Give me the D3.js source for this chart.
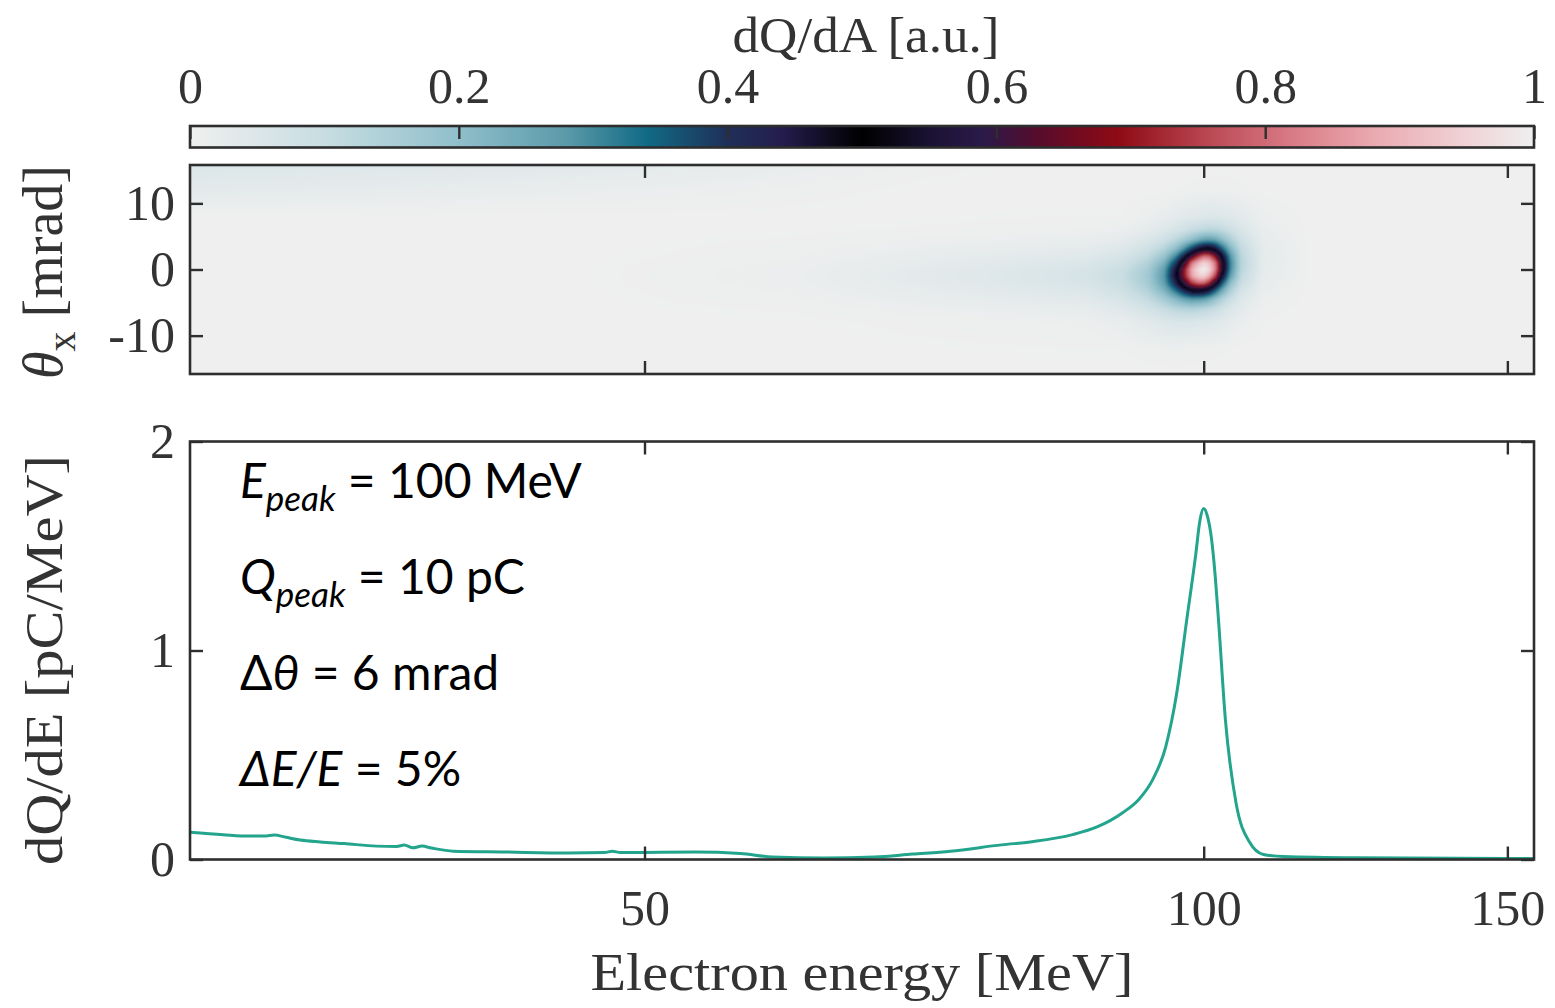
<!DOCTYPE html>
<html>
<head>
<meta charset="utf-8">
<script src="https://cdn.jsdelivr.net/npm/d3@7"></script>
<style>
  html, body { margin: 0; padding: 0; background: #ffffff; }
  svg { display: block; }
</style>
</head>
<body>
<svg id="chart" width="1555" height="1008"></svg>
<script>
// ---------------- data ----------------
// Energy-axis ticks [MeV]
const energyTicks = [50, 100, 150];
// Angle-axis ticks [mrad]
const thetaTicks = [-10, 0, 10];
// Spectrum-axis ticks [pC/MeV]
const chargeTicks = [0, 1, 2];
// Colour-bar ticks and labels
const cbarTicks = [0, 0.2, 0.4, 0.6, 0.8, 1];
const cbarTickLabels = ["0", "0.2", "0.4", "0.6", "0.8", "1"];

// Beam parameters quoted in the spectrum panel
const peakEnergy = 100;   // MeV
const peakCharge = 10;    // pC
const divergence = 6;     // mrad
const energySpread = 5;   // %

// Angle-integrated spectrum dQ/dE [pC/MeV] versus electron energy [MeV]
const spectrumEnergy = [29.75, 30.86, 31.77, 32.3, 32.67, 33.1, 33.63, 34.4, 35.34, 36.65,
  37.5, 37.83, 38.2, 38.6, 39.02, 40.01, 42.44, 45.73, 47.7, 48.14,
  48.6, 50.0, 53.11, 56.06, 58.26, 61.98, 65.97, 69.13, 72.47, 77.25,
  80.43, 84.49, 87.23, 90.07, 91.93, 93.6, 95.19, 96.56, 97.81, 98.97,
  99.5, 100.0, 100.5, 101.0, 101.5, 101.95, 102.87, 104.3, 106.2, 108.1,
  111.0, 122.2, 155.6];
const spectrumCharge = [0.131, 0.119, 0.112, 0.112, 0.117, 0.106, 0.093, 0.084, 0.076, 0.064,
  0.062, 0.069, 0.056, 0.064, 0.055, 0.040, 0.036, 0.031, 0.033, 0.040,
  0.033, 0.034, 0.036, 0.029, 0.012, 0.007, 0.012, 0.026, 0.040, 0.070,
  0.086, 0.119, 0.157, 0.224, 0.286, 0.381, 0.538, 0.795, 1.143, 1.459,
  1.62, 1.68, 1.64, 1.54, 1.36, 1.143, 0.667, 0.271, 0.081, 0.024,
  0.014, 0.008, 0.005];

// Angularly resolved charge density dQ/dA (normalised), sampled on an energy x angle grid
const mapEnergy = [29.75, 45, 60, 70, 80, 86, 90, 93, 95, 96.5, 97.5, 98.5, 99.3, 100,
  100.7, 101.5, 102.5, 103.5, 105, 108, 115, 155.6];
const mapTheta = [-15.8, -12, -8, -6, -4.5, -3, -2, -1, 0, 1, 2, 3, 4.5, 6, 8, 12, 15.8];
const mapValues = [
  [0,0,0,0,0,0,0,0,0,0,0,0,0,0,0,0,0,0,0,0,0,0],
  [0,0,0,.001,.002,.002,.002,.006,.007,.008,.007,.006,.006,.005,.004,.004,.003,.002,0,0,0,0],
  [0,0,.001,.004,.006,.008,.017,.034,.047,.051,.053,.052,.048,.045,.043,.039,.032,.023,.013,.002,0,0],
  [0,0,.003,.010,.016,.021,.039,.069,.099,.123,.131,.135,.128,.120,.111,.096,.071,.050,.030,.005,0,0],
  [0,0,.006,.017,.028,.036,.061,.105,.161,.220,.258,.281,.275,.265,.238,.191,.137,.092,.044,.010,0,0],
  [0,0,.008,.024,.040,.052,.082,.142,.233,.353,.454,.530,.546,.530,.482,.382,.257,.158,.072,.015,0,0],
  [0,0,.010,.029,.048,.062,.094,.160,.268,.441,.590,.746,.801,.800,.722,.560,.360,.212,.094,.018,0,0],
  [0,0,.010,.030,.050,.065,.098,.165,.280,.488,.692,.871,.935,.950,.889,.751,.472,.274,.112,.022,0,0],
  [0,0,.010,.029,.048,.062,.093,.157,.268,.473,.690,.890,.965,1.000,.959,.833,.538,.310,.126,.025,0,0],
  [0,0,.008,.024,.040,.052,.079,.135,.233,.400,.584,.819,.899,.950,.922,.816,.538,.316,.132,.026,0,0],
  [0,0,.006,.019,.031,.040,.063,.108,.184,.312,.447,.612,.733,.800,.792,.681,.472,.291,.126,.026,0,0],
  [0,0,.005,.014,.023,.029,.046,.082,.138,.220,.309,.415,.486,.530,.535,.486,.360,.239,.112,.025,0,0],
  [0,0,.003,.008,.013,.016,.026,.052,.082,.123,.163,.203,.240,.265,.273,.259,.205,.153,.083,.021,0,0],
  [0,0,.001,.003,.005,.007,.011,.026,.045,.064,.081,.100,.112,.120,.126,.123,.110,.089,.054,.016,0,0],
  [0,0,0,.001,.002,.002,.002,.010,.018,.028,.034,.039,.043,.045,.048,.048,.044,.040,.030,.009,0,0],
  [.030,.015,.005,0,0,0,0,0,0,.002,.003,.004,.004,.005,.006,.006,.006,.005,.004,0,0,0],
  [.050,.035,.015,.005,0,0,0,0,0,0,0,0,0,0,0,0,0,0,0,0,0,0]
];

// Diverging colour map: light grey -> teal -> black -> red -> light grey
const cmapStops = [0, 0.10, 0.20, 0.28, 0.34, 0.40, 0.44, 0.50, 0.55, 0.59, 0.63, 0.69, 0.76, 0.82, 0.88, 0.95, 1.0];
const cmapColors = ["#efefef", "#c8dde2", "#90bfcb", "#5b9aa9", "#116a85", "#1f2f58", "#241d4e", "#000000",
  "#1a1232", "#2a1a4a", "#560c2c", "#8e0a14", "#bb4a55", "#d97b86", "#eaa9b0", "#f0d3d6", "#efefef"];

// ---------------- layout ----------------
const svg = d3.select("#chart");
const INK = "#2e2e2e";
const TEXT = "#333333";
const SERIF = "'Liberation Serif', 'Times New Roman', serif";
const SANS = "Lato, 'Open Sans', 'Noto Sans', sans-serif";

const left = 190, right = 1534;
const cbTop = 126, cbBottom = 147.5;
const mapTop = 165, mapBottom = 374;
const specTop = 441.5, specBottom = 859.5;

// Spectrometer energy axis: dispersion is non-linear in energy
const x = d3.scalePow().exponent(-0.135).domain([29.75, 155.6]).range([left, right]);
const yTheta = d3.scaleLinear().domain([-15.8, 15.8]).range([mapBottom, mapTop]);
const yQ = d3.scaleLinear().domain([0, 2]).range([specBottom, specTop]);
const xCb = d3.scaleLinear().domain([0, 1]).range([left, right]);
const cmap = d3.scaleLinear().domain(cmapStops).range(cmapColors)
  .interpolate(d3.interpolateRgb).clamp(true);
const plainNumber = d => String(d);

function styleAxis(g, withText) {
  g.attr("font-family", SERIF).attr("font-size", 50).attr("fill", null);
  g.select(".domain").remove();
  g.selectAll(".tick line").attr("stroke", INK).attr("stroke-width", 2.4);
  g.selectAll(".tick text").attr("fill", TEXT);
  if (!withText) g.selectAll(".tick text").remove();
}

// ---------------- colour bar ----------------
const defs = svg.append("defs");
const grad = defs.append("linearGradient").attr("id", "cbar-grad")
  .attr("x1", 0).attr("x2", 1).attr("y1", 0).attr("y2", 0);
grad.selectAll("stop").data(cmapStops).join("stop")
  .attr("offset", d => d)
  .attr("stop-color", (d, i) => cmapColors[i]);

svg.append("rect")
  .attr("x", left).attr("y", cbTop)
  .attr("width", right - left).attr("height", cbBottom - cbTop)
  .attr("fill", "url(#cbar-grad)");

svg.append("g").attr("transform", `translate(0,${cbTop})`)
  .call(d3.axisTop(xCb).tickValues(cbarTicks).tickSize(-13).tickPadding(23)
    .tickFormat((d, i) => cbarTickLabels[i]))
  .call(g => styleAxis(g, true));

svg.append("rect")
  .attr("x", left).attr("y", cbTop)
  .attr("width", right - left).attr("height", cbBottom - cbTop)
  .attr("fill", "none").attr("stroke", INK).attr("stroke-width", 2.6);

svg.append("text")
  .attr("x", 866).attr("y", 52)
  .attr("text-anchor", "middle")
  .attr("font-family", SERIF).attr("font-size", 50).attr("fill", TEXT)
  .attr("textLength", 267).attr("lengthAdjust", "spacingAndGlyphs")
  .text("dQ/dA [a.u.]");

// ---------------- angle-resolved map ----------------
const W = right - left, H = mapBottom - mapTop;
const canvas = document.createElement("canvas");
canvas.width = W; canvas.height = H;
const ctx = canvas.getContext("2d");
const img = ctx.createImageData(W, H);
const lut = d3.range(1025).map(i => d3.rgb(cmap(i / 1024)));

function locate(arr, v) {
  let i = d3.bisectRight(arr, v) - 1;
  i = Math.max(0, Math.min(arr.length - 2, i));
  const f = Math.max(0, Math.min(1, (v - arr[i]) / (arr[i + 1] - arr[i])));
  return [i, f];
}
const colLoc = d3.range(W).map(i => locate(mapEnergy, x.invert(left + i + 0.5)));
const rowLoc = d3.range(H).map(j => locate(mapTheta, yTheta.invert(mapTop + j + 0.5)));

for (let j = 0; j < H; j++) {
  const [r, fr] = rowLoc[j];
  const r0 = mapValues[r], r1 = mapValues[r + 1];
  for (let i = 0; i < W; i++) {
    const [c, fc] = colLoc[i];
    const a = r0[c] * (1 - fc) + r0[c + 1] * fc;
    const b = r1[c] * (1 - fc) + r1[c + 1] * fc;
    const v = a * (1 - fr) + b * fr;
    const col = lut[Math.round(Math.max(0, Math.min(1, v)) * 1024)];
    const k = (j * W + i) * 4;
    img.data[k] = col.r; img.data[k + 1] = col.g; img.data[k + 2] = col.b; img.data[k + 3] = 255;
  }
}
ctx.putImageData(img, 0, 0);

defs.append("clipPath").attr("id", "map-clip")
  .append("rect").attr("x", left).attr("y", mapTop).attr("width", W).attr("height", H);
defs.append("filter").attr("id", "soft").attr("x", "-1%").attr("y", "-1%").attr("width", "102%").attr("height", "102%")
  .append("feGaussianBlur").attr("stdDeviation", 1.1);

svg.append("rect").attr("x", left).attr("y", mapTop).attr("width", W).attr("height", H).attr("fill", cmapColors[0]);
svg.append("g").attr("clip-path", "url(#map-clip)")
  .append("image")
  .attr("x", left).attr("y", mapTop).attr("width", W).attr("height", H)
  .attr("preserveAspectRatio", "none")
  .attr("href", canvas.toDataURL())
  .attr("filter", "url(#soft)");

svg.append("g").attr("transform", `translate(0,${mapBottom})`)
  .call(d3.axisBottom(x).tickValues(energyTicks).tickSize(-13))
  .call(g => styleAxis(g, false));
svg.append("g").attr("transform", `translate(0,${mapTop})`)
  .call(d3.axisTop(x).tickValues(energyTicks).tickSize(-13))
  .call(g => styleAxis(g, false));
svg.append("g").attr("transform", `translate(${left},0)`)
  .call(d3.axisLeft(yTheta).tickValues(thetaTicks).tickSize(-13).tickPadding(15).tickFormat(plainNumber))
  .call(g => styleAxis(g, true));
svg.append("g").attr("transform", `translate(${right},0)`)
  .call(d3.axisRight(yTheta).tickValues(thetaTicks).tickSize(-13))
  .call(g => styleAxis(g, false));

svg.append("rect")
  .attr("x", left).attr("y", mapTop).attr("width", W).attr("height", H)
  .attr("fill", "none").attr("stroke", INK).attr("stroke-width", 2.6);

svg.append("text")
  .attr("transform", "translate(62,272) rotate(-90)")
  .attr("text-anchor", "middle")
  .attr("font-family", SERIF).attr("font-size", 56).attr("fill", TEXT)
  .call(t => {
    t.append("tspan").attr("font-style", "italic").text("θ");
    t.append("tspan").attr("font-size", 40).attr("dy", 13).text("x");
    t.append("tspan").attr("dy", -13).text(" [mrad]");
  });

// ---------------- spectrum ----------------
defs.append("clipPath").attr("id", "spec-clip")
  .append("rect").attr("x", left).attr("y", specTop - 2).attr("width", W).attr("height", specBottom - specTop + 4);

const spectrum = spectrumEnergy.map((e, i) => [e, spectrumCharge[i]]);
svg.append("path")
  .datum(spectrum)
  .attr("clip-path", "url(#spec-clip)")
  .attr("fill", "none")
  .attr("stroke", "#23a48c")
  .attr("stroke-width", 3)
  .attr("stroke-linejoin", "round")
  .attr("d", d3.line().x(d => x(d[0])).y(d => yQ(d[1])).curve(d3.curveMonotoneX));

svg.append("g").attr("transform", `translate(0,${specBottom})`)
  .call(d3.axisBottom(x).tickValues(energyTicks).tickSize(-13).tickPadding(30).tickFormat(plainNumber))
  .call(g => styleAxis(g, true));
svg.append("g").attr("transform", `translate(0,${specTop})`)
  .call(d3.axisTop(x).tickValues(energyTicks).tickSize(-13))
  .call(g => styleAxis(g, false));
svg.append("g").attr("transform", `translate(${left},0)`)
  .call(d3.axisLeft(yQ).tickValues(chargeTicks).tickSize(-13).tickPadding(15).tickFormat(plainNumber))
  .call(g => styleAxis(g, true));
svg.append("g").attr("transform", `translate(${right},0)`)
  .call(d3.axisRight(yQ).tickValues(chargeTicks).tickSize(-13))
  .call(g => styleAxis(g, false));

svg.append("rect")
  .attr("x", left).attr("y", specTop).attr("width", W).attr("height", specBottom - specTop)
  .attr("fill", "none").attr("stroke", INK).attr("stroke-width", 2.6);

svg.append("text")
  .attr("transform", "translate(62,660) rotate(-90)")
  .attr("text-anchor", "middle")
  .attr("font-family", SERIF).attr("font-size", 52).attr("fill", TEXT)
  .attr("textLength", 410).attr("lengthAdjust", "spacingAndGlyphs")
  .text("dQ/dE [pC/MeV]");

svg.append("text")
  .attr("x", 862).attr("y", 990)
  .attr("text-anchor", "middle")
  .attr("font-family", SERIF).attr("font-size", 52).attr("fill", TEXT)
  .attr("textLength", 543).attr("lengthAdjust", "spacingAndGlyphs")
  .text("Electron energy [MeV]");

// ---------------- beam parameters ----------------
const notes = svg.append("g")
  .attr("font-family", SANS).attr("font-size", 48).attr("fill", "#000");

function subscripted(y, main, sub, rest) {
  const t = notes.append("text").attr("x", 240).attr("y", y);
  t.append("tspan").attr("font-style", "italic").text(main);
  t.append("tspan").attr("font-style", "italic").attr("font-size", 35).attr("dy", 13).text(sub);
  t.append("tspan").attr("dy", -13).text(rest);
}
subscripted(498, "E", "peak", ` = ${peakEnergy} MeV`);
subscripted(594, "Q", "peak", ` = ${peakCharge} pC`);

const t3 = notes.append("text").attr("x", 240).attr("y", 690);
t3.append("tspan").text("Δ");
t3.append("tspan").attr("font-style", "italic").text("θ");
t3.append("tspan").text(` = ${divergence} mrad`);

const t4 = notes.append("text").attr("x", 240).attr("y", 786);
t4.append("tspan").attr("font-style", "italic").text("ΔE/E");
t4.append("tspan").text(` = ${energySpread}%`);
</script>
</body>
</html>
